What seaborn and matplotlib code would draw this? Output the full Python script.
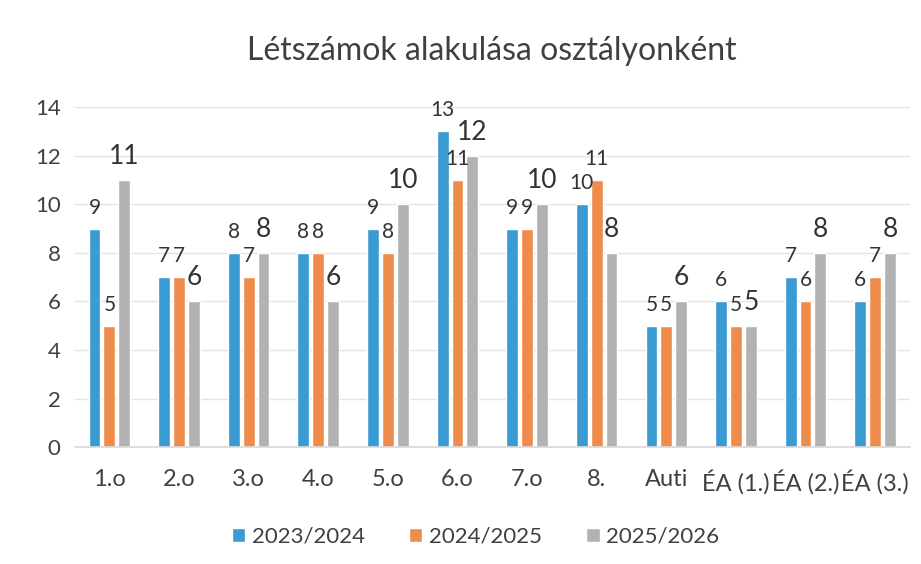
import matplotlib
matplotlib.use("Agg")
import matplotlib.pyplot as plt
import seaborn as sns
import pandas as pd

# Chart data
categories = ["1.o", "2.o", "3.o", "4.o", "5.o", "6.o", "7.o", "8.",
              "Auti", "ÉA (1.)", "ÉA (2.)", "ÉA (3.)"]
years = ["2023/2024", "2024/2025", "2025/2026"]
y2023 = [9, 7, 8, 8, 9, 13, 9, 10, 5, 6, 7, 6]
y2024 = [5, 7, 7, 8, 8, 11, 9, 11, 5, 5, 6, 7]
y2025 = [11, 6, 8, 6, 10, 12, 10, 8, 6, 5, 8, 8]

colors = ["#3A9AD2", "#EE8C4B", "#B2B2B2"]

df = pd.DataFrame({
    "osztaly": categories * 3,
    "ev": [years[0]] * 12 + [years[1]] * 12 + [years[2]] * 12,
    "letszam": y2023 + y2024 + y2025,
})

sns.set_theme(style="white")
plt.rcParams['font.family'] = ['Lato', 'DejaVu Sans']

fig, ax = plt.subplots(figsize=(9.21, 5.64), dpi=100)
fig.subplots_adjust(left=0.081, right=0.988, bottom=0.207, top=0.81)

sns.barplot(data=df, x="osztaly", y="letszam", hue="ev", palette=colors,
            saturation=1, width=0.64, gap=0.2, ax=ax, legend=True)

# data labels: third series drawn larger
for i, cont in enumerate(ax.containers):
    size = 19 if i == 2 else 15
    ax.bar_label(cont, padding=8, fontsize=size, color="#333333")

ax.set_ylim(0, 14)
ax.set_yticks(range(0, 15, 2))
ax.set_xlim(-0.5, 11.5)
ax.grid(axis="y", color="#E4E4E4", linewidth=1)
ax.set_axisbelow(True)
for s in ["top", "right", "left"]:
    ax.spines[s].set_visible(False)
ax.spines["bottom"].set_color("#D9D9D9")
ax.tick_params(axis="y", length=0, labelsize=16, colors="#404040", pad=10)
ax.tick_params(axis="x", length=0, labelsize=17, colors="#404040", pad=16)
ax.set_xlabel("")
ax.set_ylabel("")

ax.set_title("Létszámok alakulása osztályonként", fontsize=23,
             color="#404040", pad=34)

ax.legend(loc="upper center", bbox_to_anchor=(0.48, -0.175), ncol=3,
          frameon=False, fontsize=16, handlelength=0.6, handleheight=0.6,
          columnspacing=2.0, handletextpad=0.3, labelcolor="#404040")

fig.savefig("out.png", dpi=100)
